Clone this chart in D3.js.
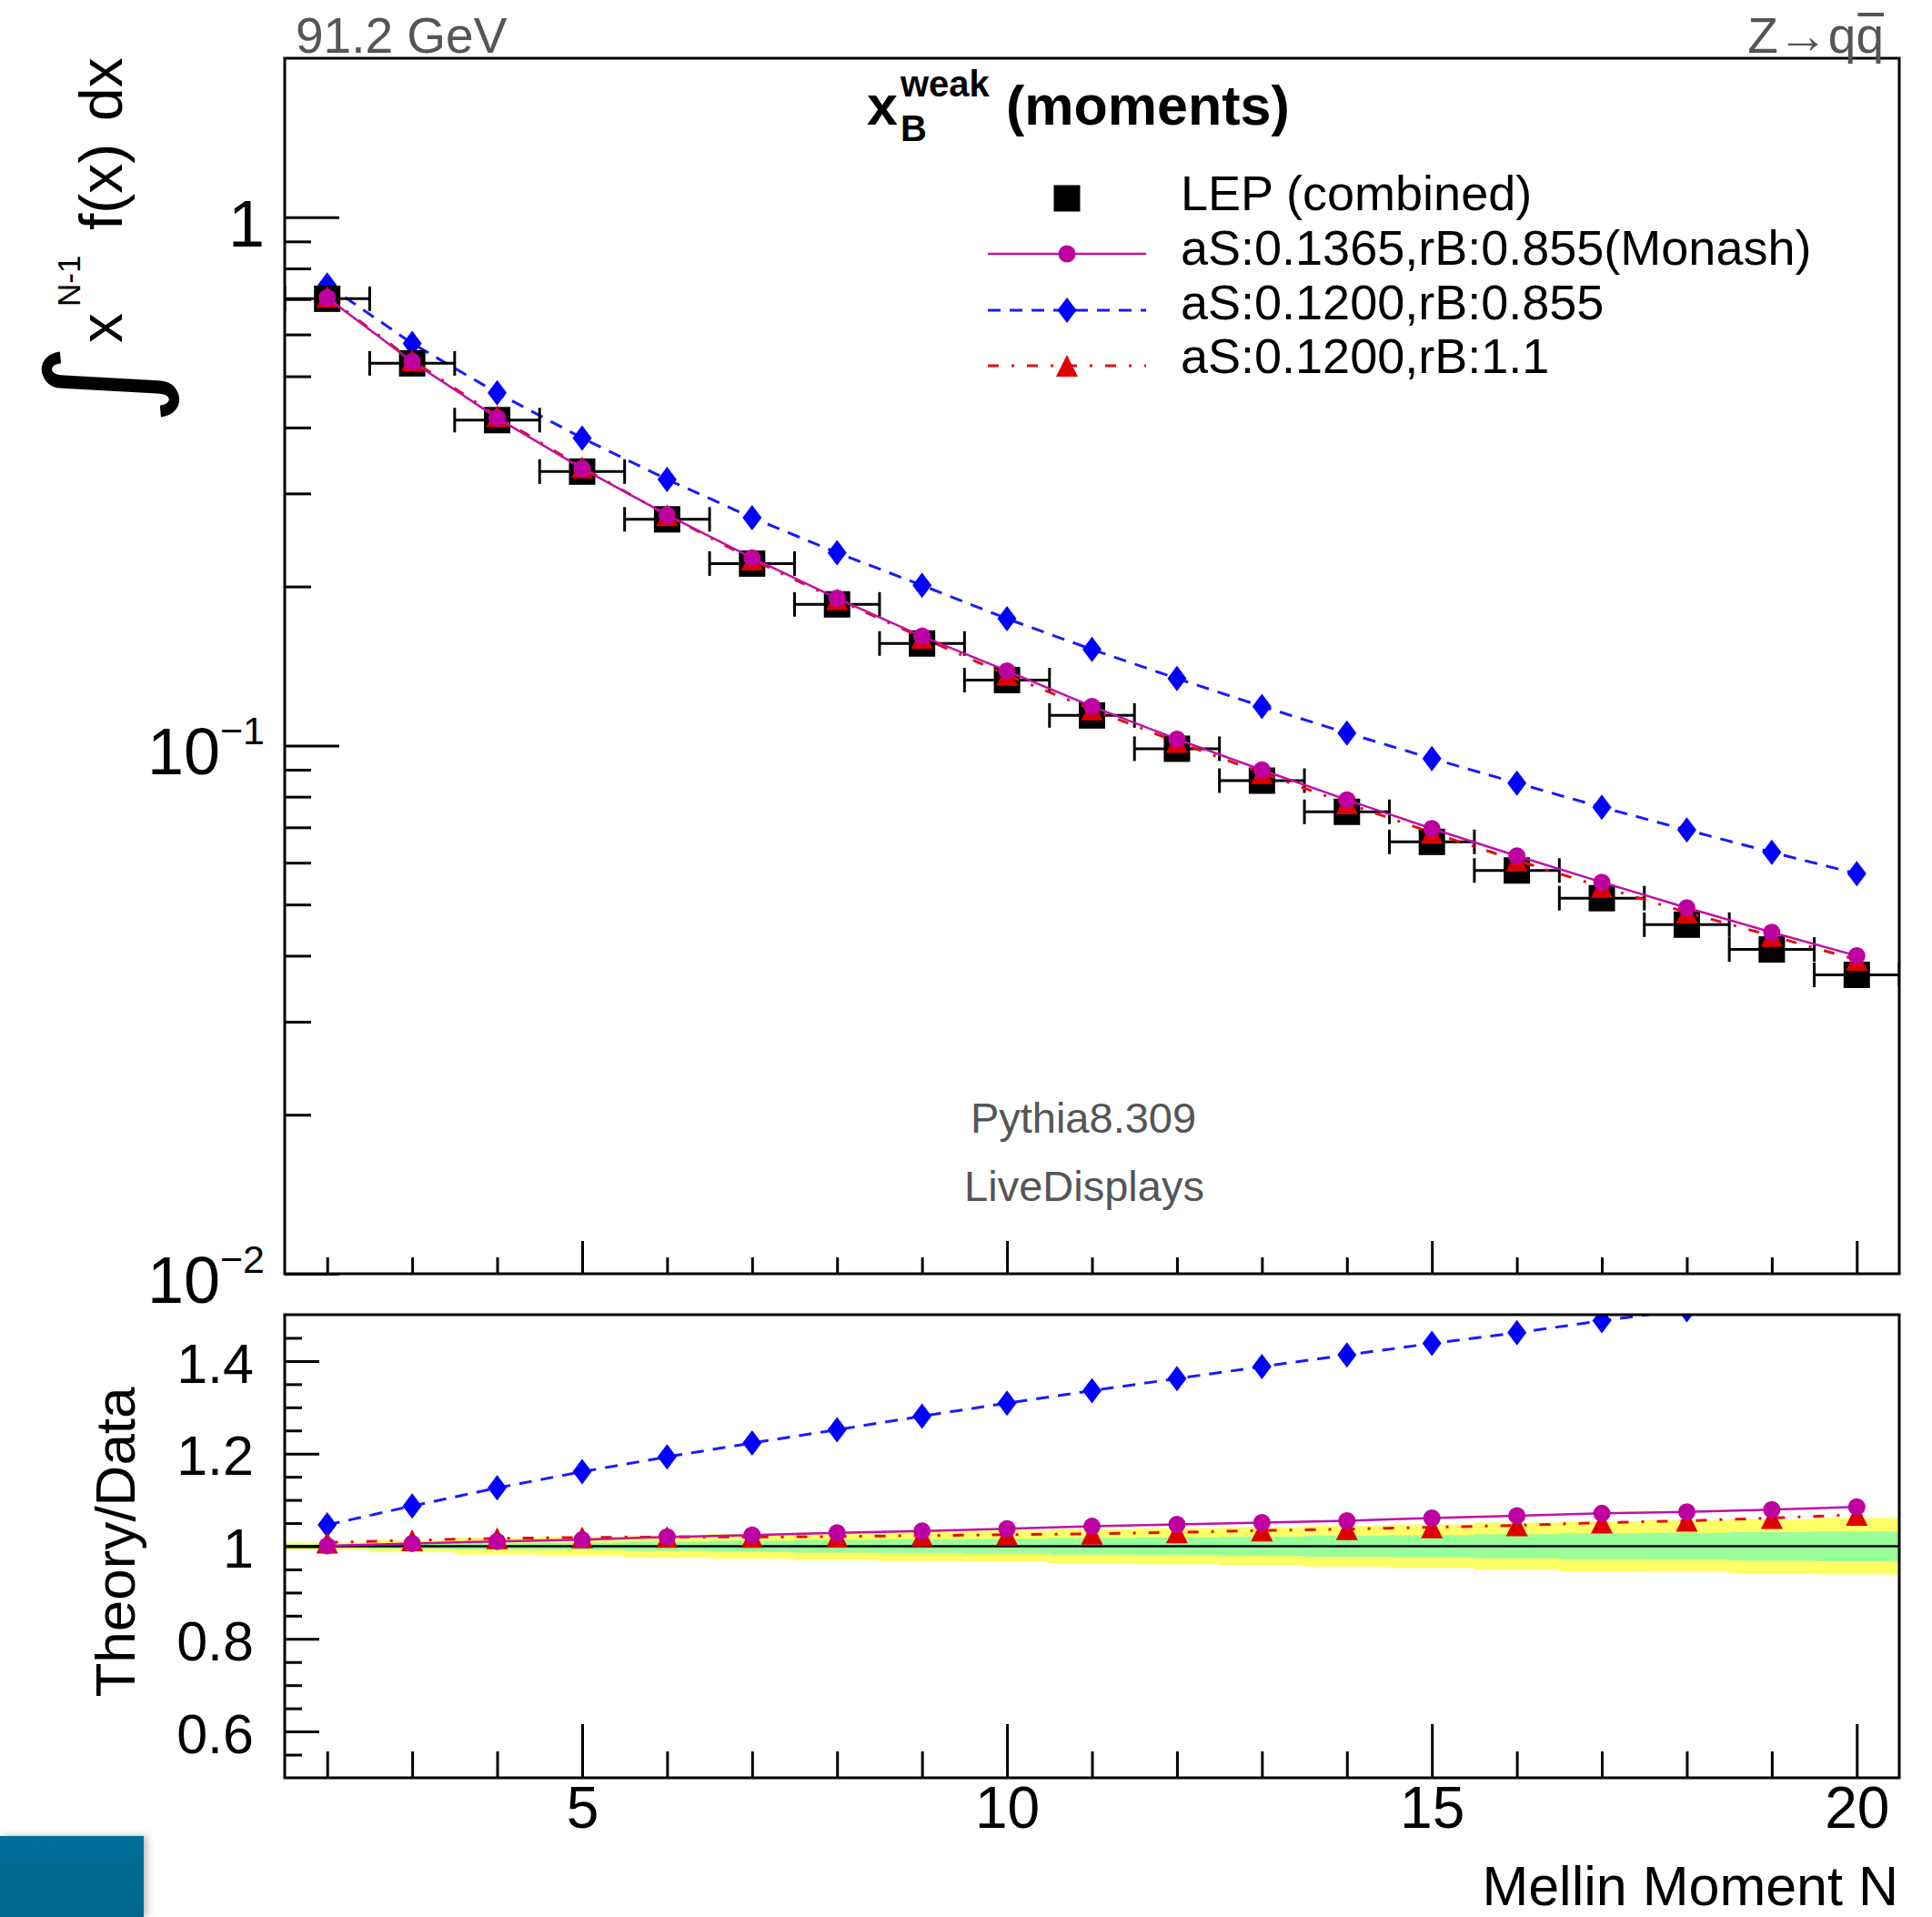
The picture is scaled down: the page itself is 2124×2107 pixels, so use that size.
<!DOCTYPE html>
<html>
<head>
<meta charset="utf-8">
<script src="https://cdn.jsdelivr.net/npm/d3@7"></script>
<style>
body { margin: 0; background: #fff; }
svg { display: block; font-family: "Liberation Sans", Arial, Helvetica, sans-serif; }
</style>
</head>
<body>
<svg id="chart" width="2124" height="2107"></svg>
<script>
// Mellin moments N = 2 .. 20
const moments = [2, 3, 4, 5, 6, 7, 8, 9, 10, 11, 12, 13, 14, 15, 16, 17, 18, 19, 20]

// LEP combined data
const lepData = [0.701, 0.529, 0.413, 0.330, 0.268, 0.221, 0.185, 0.156, 0.133, 0.114, 0.0986, 0.0858, 0.0749, 0.0657, 0.0580, 0.0514, 0.0458, 0.0411, 0.0368]

// theory curves, upper pad
const monashMain = [0.704, 0.533, 0.417, 0.3345, 0.2733, 0.2265, 0.190, 0.161, 0.1384, 0.1186, 0.1028, 0.0899, 0.0789, 0.0696, 0.0618, 0.0551, 0.0493, 0.0443, 0.0400]
const as120Main = [0.744, 0.577, 0.465, 0.382, 0.319, 0.270, 0.2317, 0.201, 0.1738, 0.152, 0.1339, 0.1186, 0.1056, 0.0945, 0.0849, 0.0764, 0.0692, 0.0628, 0.0572]
const rb11Main = [0.707, 0.536, 0.420, 0.336, 0.273, 0.225, 0.189, 0.160, 0.136, 0.117, 0.1016, 0.0887, 0.0777, 0.0684, 0.0606, 0.0540, 0.0483, 0.0436, 0.0393]

// theory / data, lower pad
const monashRatio = [1.001, 1.006, 1.0105, 1.014, 1.02, 1.024, 1.029, 1.033, 1.038, 1.043, 1.047, 1.051, 1.055, 1.061, 1.066, 1.071, 1.074, 1.079, 1.085]
const as120Ratio = [1.046, 1.087, 1.126, 1.161, 1.193, 1.223, 1.2515, 1.281, 1.309, 1.336, 1.362, 1.388, 1.413, 1.438, 1.461, 1.487, 1.511, 1.528, 1.554]
const rb11Ratio = [1.008, 1.013, 1.017, 1.019, 1.02, 1.02, 1.021, 1.023, 1.025, 1.027, 1.03, 1.034, 1.037, 1.041, 1.045, 1.051, 1.055, 1.061, 1.068]

// uncertainty bands (half widths around 1)
const bandOuter = [0.008, 0.013, 0.018, 0.021, 0.024, 0.027, 0.030, 0.032, 0.034, 0.037, 0.039, 0.041, 0.044, 0.047, 0.051, 0.054, 0.056, 0.058, 0.061]
const bandInner = [0.004, 0.006, 0.007, 0.008, 0.010, 0.012, 0.014, 0.015, 0.016, 0.018, 0.019, 0.021, 0.023, 0.024, 0.026, 0.028, 0.029, 0.031, 0.032]

// ticks
const xTickMajor = [5, 10, 15, 20]
const xTickMinor = [2, 3, 4, 6, 7, 8, 9, 11, 12, 13, 14, 16, 17, 18, 19]
const mainTickMajor = [0.01, 0.1, 1]
const mainTickMinor = [0.02, 0.03, 0.04, 0.05, 0.06, 0.07, 0.08, 0.09, 0.2, 0.3, 0.4, 0.5, 0.6, 0.7, 0.8, 0.9]
const mainLabelBase = ["10", "10", "1"]
const mainLabelExp = ["\u22122", "\u22121", ""]
const ratioTickMajor = [0.6, 0.8, 1, 1.2, 1.4]
const ratioTickMinor = [0.55, 0.65, 0.7, 0.75, 0.85, 0.9, 0.95, 1.05, 1.1, 1.15, 1.25, 1.3, 1.35, 1.45]

const legendLabels = ["LEP (combined)", "aS:0.1365,rB:0.855(Monash)", "aS:0.1200,rB:0.855", "aS:0.1200,rB:1.1"]

const frame = { left: 313, right: 2088, mainTop: 64, mainBottom: 1400, ratioTop: 1445, ratioBottom: 1954 }

const svg = d3.select("#chart")

const x = d3.scaleLinear().domain([1.5, 20.5]).range([frame.left, frame.right])
const yMain = d3.scaleLog().domain([0.01, 2]).range([frame.mainBottom, frame.mainTop])
const yRatio = d3.scaleLinear().domain([0.5, 1.5]).range([frame.ratioBottom, frame.ratioTop])

const defs = svg.append("defs")
defs.append("clipPath").attr("id", "clipMain").append("rect")
	.attr("x", frame.left).attr("y", frame.mainTop)
	.attr("width", frame.right - frame.left).attr("height", frame.mainBottom - frame.mainTop)
defs.append("clipPath").attr("id", "clipRatio").append("rect")
	.attr("x", frame.left).attr("y", frame.ratioTop)
	.attr("width", frame.right - frame.left).attr("height", frame.ratioBottom - frame.ratioTop)

function markerPath(kind) {
	if (kind === "square") return "M-14.5,-14.5H14.5V14.5H-14.5Z"
	if (kind === "diamond") return "M0,-14L10.5,0L0,14L-10.5,0Z"
	if (kind === "triangle") return "M0,-12L12,12L-12,12Z"
	return "M-9.5,0A9.5,9.5 0 1,0 9.5,0A9.5,9.5 0 1,0 -9.5,0Z"
}

const series = [
	{ main: as120Main, ratio: as120Ratio, color: "#0000ff", lineColor: "#1a1aff", dash: "14,10", width: 3, marker: "diamond" },
	{ main: rb11Main, ratio: rb11Ratio, color: "#dd0000", lineColor: "#e01010", dash: "12,14,3,14", width: 3, marker: "triangle" },
	{ main: monashMain, ratio: monashRatio, color: "#bf00a0", lineColor: "#c010a8", dash: null, width: 2.5, marker: "circle" }
]

function drawSeries(g, s, values, yScale) {
	const line = d3.line().x((d, i) => x(moments[i])).y(d => yScale(d))
	g.append("path")
		.attr("d", line(values))
		.attr("fill", "none")
		.attr("stroke", s.lineColor)
		.attr("stroke-width", s.width)
		.attr("stroke-dasharray", s.dash)
	g.selectAll(null)
		.data(values)
		.enter().append("path")
			.attr("d", markerPath(s.marker))
			.attr("transform", (d, i) => `translate(${x(moments[i])},${yScale(d)})`)
			.attr("fill", s.color)
}

// ---------- upper pad ----------
const main = svg.append("g").attr("clip-path", "url(#clipMain)")

drawSeries(main, series[0], series[0].main, yMain)

const bars = main.append("g").attr("stroke", "#000").attr("stroke-width", 3)
lepData.forEach((v, i) => {
	const n = moments[i]
	const yy = yMain(v)
	bars.append("line").attr("x1", x(n - 0.5)).attr("x2", x(n + 0.5)).attr("y1", yy).attr("y2", yy)
	bars.append("line").attr("x1", x(n - 0.5)).attr("x2", x(n - 0.5)).attr("y1", yy - 13.5).attr("y2", yy + 13.5)
	bars.append("line").attr("x1", x(n + 0.5)).attr("x2", x(n + 0.5)).attr("y1", yy - 13.5).attr("y2", yy + 13.5)
})
main.selectAll(null)
	.data(lepData)
	.enter().append("path")
		.attr("d", markerPath("square"))
		.attr("transform", (d, i) => `translate(${x(moments[i])},${yMain(d)})`)
		.attr("fill", "#000")

drawSeries(main, series[1], series[1].main, yMain)
drawSeries(main, series[2], series[2].main, yMain)

// ---------- lower pad ----------
const ratio = svg.append("g").attr("clip-path", "url(#clipRatio)")

ratio.selectAll(null)
	.data(bandOuter)
	.enter().append("rect")
		.attr("x", (d, i) => x(moments[i] - 0.5))
		.attr("width", x(1) - x(0) + 0.5)
		.attr("y", d => yRatio(1 + d))
		.attr("height", d => yRatio(1 - d) - yRatio(1 + d))
		.attr("fill", "#ffff66")
ratio.selectAll(null)
	.data(bandInner)
	.enter().append("rect")
		.attr("x", (d, i) => x(moments[i] - 0.5))
		.attr("width", x(1) - x(0) + 0.5)
		.attr("y", d => yRatio(1 + d))
		.attr("height", d => yRatio(1 - d) - yRatio(1 + d))
		.attr("fill", "#99ff99")
ratio.append("line")
	.attr("x1", frame.left).attr("x2", frame.right)
	.attr("y1", yRatio(1)).attr("y2", yRatio(1))
	.attr("stroke", "#000").attr("stroke-width", 2.5)

series.forEach(s => drawSeries(ratio, s, s.ratio, yRatio))

// ---------- axes ----------
function ticks(g, axis) {
	g.call(axis)
	g.select(".domain").remove()
	g.selectAll(".tick line").attr("stroke", "#000").attr("stroke-width", 3)
}

ticks(svg.append("g").attr("transform", `translate(0,${frame.mainBottom})`),
	d3.axisBottom(x).tickValues(xTickMajor).tickSizeInner(-36).tickSizeOuter(0).tickFormat(""))
ticks(svg.append("g").attr("transform", `translate(0,${frame.mainBottom})`),
	d3.axisBottom(x).tickValues(xTickMinor).tickSizeInner(-18).tickSizeOuter(0).tickFormat(""))

const xAxisRatio = svg.append("g").attr("transform", `translate(0,${frame.ratioBottom})`)
ticks(xAxisRatio, d3.axisBottom(x).tickValues(xTickMajor).tickSizeInner(-59).tickSizeOuter(0).tickPadding(10).tickFormat(d3.format("d")))
xAxisRatio.selectAll("text").attr("font-size", 64).attr("font-family", null).attr("fill", "#000")
ticks(svg.append("g").attr("transform", `translate(0,${frame.ratioBottom})`),
	d3.axisBottom(x).tickValues(xTickMinor).tickSizeInner(-29).tickSizeOuter(0).tickFormat(""))

ticks(svg.append("g").attr("transform", `translate(${frame.left},0)`),
	d3.axisLeft(yMain).tickValues(mainTickMajor).tickSizeInner(-60).tickSizeOuter(0).tickFormat(""))
ticks(svg.append("g").attr("transform", `translate(${frame.left},0)`),
	d3.axisLeft(yMain).tickValues(mainTickMinor).tickSizeInner(-29).tickSizeOuter(0).tickFormat(""))

const mainLabels = svg.append("g")
mainTickMajor.forEach((v, i) => {
	const t = mainLabels.append("text")
		.attr("x", 291)
		.attr("y", yMain(v) + 32)
		.attr("text-anchor", "end")
		.attr("font-size", 72)
		.text(mainLabelBase[i])
	if (mainLabelExp[i]) {
		t.append("tspan").attr("dy", -33).attr("font-size", 43).text(mainLabelExp[i])
	}
})

const yAxisRatio = svg.append("g").attr("transform", `translate(${frame.left},0)`)
ticks(yAxisRatio, d3.axisLeft(yRatio).tickValues(ratioTickMajor).tickSizeInner(-38).tickSizeOuter(0).tickPadding(34).tickFormat(d => String(d)))
yAxisRatio.selectAll("text").attr("font-size", 61).attr("font-family", null).attr("fill", "#000").attr("dy", "0.38em")
ticks(svg.append("g").attr("transform", `translate(${frame.left},0)`),
	d3.axisLeft(yRatio).tickValues(ratioTickMinor).tickSizeInner(-19).tickSizeOuter(0).tickFormat(""))

// frames
svg.append("rect")
	.attr("x", frame.left).attr("y", frame.mainTop)
	.attr("width", frame.right - frame.left).attr("height", frame.mainBottom - frame.mainTop)
	.attr("fill", "none").attr("stroke", "#000").attr("stroke-width", 3)
svg.append("rect")
	.attr("x", frame.left).attr("y", frame.ratioTop)
	.attr("width", frame.right - frame.left).attr("height", frame.ratioBottom - frame.ratioTop)
	.attr("fill", "none").attr("stroke", "#000").attr("stroke-width", 3)

// ---------- texts ----------
svg.append("text").attr("x", 325).attr("y", 58).attr("font-size", 55).attr("fill", "#555").text("91.2 GeV")

const qbar = svg.append("text").attr("x", 2071).attr("y", 58).attr("font-size", 55).attr("fill", "#555").attr("text-anchor", "end").text("q")
const qWidth = qbar.node().getComputedTextLength()
svg.append("text").attr("x", 2071 - qWidth).attr("y", 58).attr("font-size", 55).attr("fill", "#555").attr("text-anchor", "end").text("Z\u2192q")
svg.append("line")
	.attr("x1", 2071 - qWidth + 2).attr("x2", 2071)
	.attr("y1", 16).attr("y2", 16)
	.attr("stroke", "#555").attr("stroke-width", 4)

// title
const title = svg.append("g").attr("font-weight", "bold").attr("fill", "#000")
title.append("text").attr("x", 953).attr("y", 137).attr("font-size", 61).text("x")
title.append("text").attr("x", 990).attr("y", 106).attr("font-size", 40).text("weak")
title.append("text").attr("x", 990).attr("y", 155).attr("font-size", 40).text("B")
title.append("text").attr("x", 1106).attr("y", 137).attr("font-size", 61).text("(moments)")

// legend
const legendRows = [218, 279, 341, 402]
const legendBaselines = [231, 291, 351, 410]
const legend = svg.append("g")
legendLabels.forEach((label, i) => {
	legend.append("text").attr("x", 1298).attr("y", legendBaselines[i]).attr("font-size", 54).text(label)
})
legend.append("path").attr("d", markerPath("square")).attr("transform", `translate(1173,${legendRows[0]})`).attr("fill", "#000")
const legendSeries = [series[2], series[0], series[1]]
legendSeries.forEach((s, i) => {
	const yy = legendRows[i + 1]
	legend.append("line")
		.attr("x1", 1086).attr("x2", 1260).attr("y1", yy).attr("y2", yy)
		.attr("stroke", s.lineColor).attr("stroke-width", s.width).attr("stroke-dasharray", s.dash)
	legend.append("path").attr("d", markerPath(s.marker)).attr("transform", `translate(1173,${yy})`).attr("fill", s.color)
})

svg.append("text").attr("x", 1191).attr("y", 1245).attr("font-size", 47).attr("fill", "#555").attr("text-anchor", "middle").text("Pythia8.309")
svg.append("text").attr("x", 1192).attr("y", 1320).attr("font-size", 47).attr("fill", "#555").attr("text-anchor", "middle").text("LiveDisplays")

// axis titles
svg.append("text").attr("x", 2087).attr("y", 2094).attr("font-size", 61).attr("text-anchor", "end").text("Mellin Moment N")

svg.append("text")
	.attr("transform", "translate(148,1695) rotate(-90)")
	.attr("font-size", 62).attr("text-anchor", "middle")
	.text("Theory/Data")

const yTitle = svg.append("g").attr("transform", "rotate(-90)")
const integral = yTitle.append("text").attr("font-family", "DejaVu Sans").attr("font-size", 100).text("\u222B")
const bb = integral.node().getBBox()
integral.attr("transform", `translate(-468.5,18.5) scale(${92 / bb.width},${183 / bb.height}) translate(${-bb.x},${-bb.y})`)
yTitle.append("text").attr("x", -377).attr("y", 134).attr("font-size", 66).text("x")
yTitle.append("text").attr("x", -337).attr("y", 88).attr("font-size", 35).text("N-1")
yTitle.append("text").attr("x", -253).attr("y", 134).attr("font-size", 66).text("f(x)")
yTitle.append("text").attr("x", -133).attr("y", 134).attr("font-size", 66).text("dx")

// corner badge
const grad = defs.append("linearGradient").attr("id", "badge").attr("x1", 0).attr("y1", 0).attr("x2", 0).attr("y2", 1)
grad.append("stop").attr("offset", 0).attr("stop-color", "#036f9a")
grad.append("stop").attr("offset", 1).attr("stop-color", "#05668e")
const shadow = defs.append("filter").attr("id", "shadow").attr("x", "-20%").attr("y", "-20%").attr("width", "150%").attr("height", "150%")
shadow.append("feDropShadow").attr("dx", 3).attr("dy", 0).attr("stdDeviation", 4).attr("flood-color", "#000").attr("flood-opacity", 0.3)
svg.append("rect").attr("x", 0).attr("y", 2018).attr("width", 158).attr("height", 89).attr("fill", "url(#badge)").attr("filter", "url(#shadow)")
</script>
</body>
</html>
